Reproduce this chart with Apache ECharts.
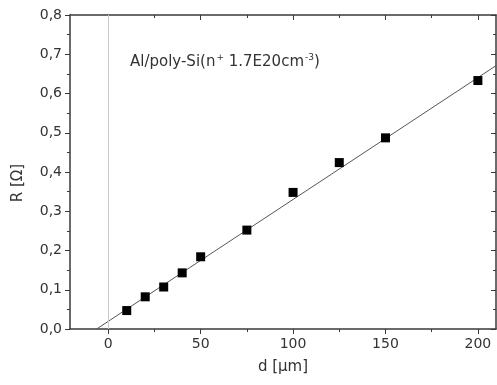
<!DOCTYPE html>
<html>
<head>
<meta charset="utf-8">
<script src="https://cdn.jsdelivr.net/npm/echarts@6/dist/echarts.min.js"></script>
<style>
  html, body { margin: 0; padding: 0; background: #fff; }
  #chart { width: 497px; height: 385px; }
</style>
</head>
<body>
<div id="chart"></div>
<script>
// measured points: d [µm] and R [Ω]
const distances = [10, 20, 30, 40, 50, 75, 100, 125, 150, 200];
const resistances = [0.047, 0.082, 0.107, 0.143, 0.184, 0.252, 0.348, 0.424, 0.487, 0.633];

// linear fit (ends of the drawn line)
const fitLine = [[-6.3, 0], [209.5, 0.670]];

const xMajorTicks = [0, 50, 100, 150, 200];
const xMinorTicks = [25, 75, 125, 175];

const chart = echarts.init(document.getElementById('chart'));

const font = 'DejaVu Sans, Liberation Sans, Arial, sans-serif';
const axisColor = '#3a3a3a';
const xMin = -20.7, xMax = 209.8;

// helper for the extra (tick only) x axes
function tickAxis(pos, ticks, len, inside, showLine) {
  return {
    type: 'value', position: pos, min: xMin, max: xMax,
    axisLine: { show: !!showLine, onZero: false, lineStyle: { color: axisColor, width: 1.5 } },
    axisLabel: { show: false },
    splitLine: { show: false },
    axisTick: { show: true, inside: inside, length: len, customValues: ticks,
      lineStyle: { color: axisColor, width: 1 } }
  };
}

const option = {
  backgroundColor: '#fff',
  animation: false,
  grid: { left: 70, right: 1, top: 15, bottom: 56 },
  xAxis: [
    {
      type: 'value', position: 'bottom', min: xMin, max: xMax,
      name: 'd [µm]', nameLocation: 'middle', nameGap: 31,
      nameTextStyle: { fontFamily: font, fontSize: 15, color: '#333' },
      axisLine: { show: true, onZero: false, lineStyle: { color: axisColor, width: 1.5 } },
      axisTick: { show: true, length: 5, customValues: xMajorTicks,
        lineStyle: { color: axisColor, width: 1 } },
      axisLabel: { customValues: xMajorTicks, fontFamily: font, fontSize: 14, color: '#333', margin: 8 },
      splitLine: { show: false }
    },
    tickAxis('bottom', xMinorTicks, 3, false),
    tickAxis('top', xMajorTicks, 5, true, true),
    tickAxis('top', xMinorTicks, 3, true)
  ],
  yAxis: [
    {
      type: 'value', position: 'left', min: 0, max: 0.8, interval: 0.1,
      name: 'R [Ω]', nameLocation: 'middle', nameGap: 44,
      nameTextStyle: { fontFamily: font, fontSize: 15, color: '#333', padding: [0, 22, 0, 0] },
      axisLine: { show: true, onZero: false, lineStyle: { color: axisColor, width: 1.5 } },
      axisTick: { show: true, length: 5, lineStyle: { color: axisColor, width: 1 } },
      minorTick: { show: true, splitNumber: 2, length: 3, lineStyle: { color: axisColor, width: 1 } },
      axisLabel: { fontFamily: font, fontSize: 14, color: '#333', margin: 8,
        formatter: v => v.toFixed(1).replace('.', ',') },
      splitLine: { show: false }
    },
    {
      type: 'value', position: 'right', min: 0, max: 0.8, interval: 0.1,
      axisLine: { show: true, onZero: false, lineStyle: { color: axisColor, width: 1.5 } },
      axisTick: { show: true, inside: true, length: 5, lineStyle: { color: axisColor, width: 1 } },
      minorTick: { show: true, splitNumber: 2, length: 3, lineStyle: { color: axisColor, width: 1 } },
      axisLabel: { show: false },
      splitLine: { show: false }
    }
  ],
  graphic: [{
    type: 'text', left: 130, top: 53,
    style: {
      text: 'Al/poly-Si(n{sup|+} 1.7E20cm{sup|-3})',
      font: '15px ' + font, fill: '#333',
      rich: { sup: { fontSize: 9, fontFamily: font, fill: '#333', verticalAlign: 'top', padding: [0, 0, 10, 1] } }
    }
  }],
  series: [
    {
      type: 'line', xAxisIndex: 0, yAxisIndex: 0,
      data: fitLine, showSymbol: false, symbol: 'none',
      lineStyle: { color: '#555', width: 1 },
      silent: true, z: 2,
      markLine: {
        silent: true, symbol: 'none', label: { show: false },
        lineStyle: { color: '#c8c8c8', width: 1, type: 'solid' },
        data: [{ xAxis: 0 }]
      }
    },
    {
      type: 'scatter', xAxisIndex: 0, yAxisIndex: 0,
      data: distances.map((d, i) => [d, resistances[i]]),
      symbol: 'rect', symbolSize: 9,
      itemStyle: { color: '#000', opacity: 1 }, z: 3
    }
  ]
};

chart.setOption(option);
</script>
</body>
</html>
